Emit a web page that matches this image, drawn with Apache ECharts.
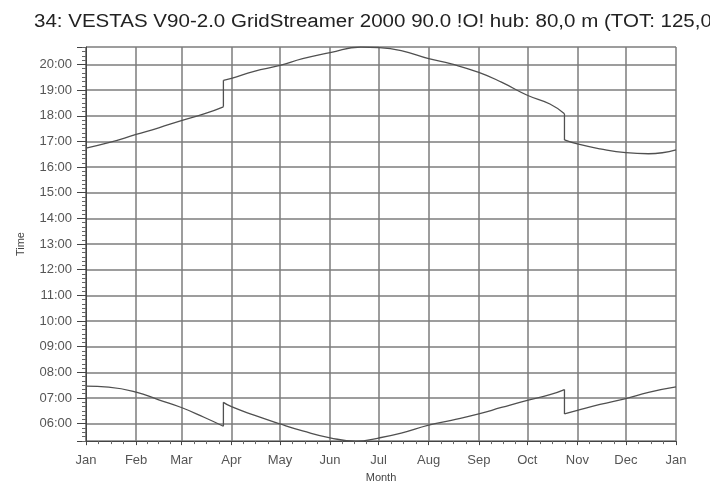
<!DOCTYPE html>
<html>
<head>
<meta charset="utf-8">
<script src="https://cdn.jsdelivr.net/npm/echarts@6/dist/echarts.min.js"></script>
<style>
  html, body { margin: 0; padding: 0; background: #fff; }
  #chart { width: 710px; height: 488px; }
</style>
</head>
<body>
<div id="chart"></div>
<script>
// Month labels for the time axis
const monthNames = ['Jan', 'Feb', 'Mar', 'Apr', 'May', 'Jun', 'Jul', 'Aug', 'Sep', 'Oct', 'Nov', 'Dec'];

const titleText = '34: VESTAS V90-2.0 GridStreamer 2000 90.0 !O! hub: 80,0 m (TOT: 125,0';

// Evening (upper) curve, one array per continuous stretch between clock changes (hours of day)
const sunsetDatesA = ['2023-01-01', '2023-01-15', '2023-02-01', '2023-02-15', '2023-03-01', '2023-03-15', '2023-03-27'];
const sunsetTimesA = [16.74, 16.95, 17.27, 17.53, 17.81, 18.07, 18.35];
const sunsetDatesB = ['2023-03-27', '2023-04-01', '2023-04-15', '2023-05-01', '2023-05-15', '2023-06-01', '2023-06-20',
  '2023-07-01', '2023-07-15', '2023-08-01', '2023-08-15', '2023-09-01', '2023-09-15', '2023-10-01', '2023-10-15', '2023-10-24'];
const sunsetTimesB = [19.38, 19.46, 19.73, 19.96, 20.23, 20.46, 20.68,
  20.66, 20.54, 20.23, 20.02, 19.69, 19.31, 18.80, 18.46, 18.08];
const sunsetDatesC = ['2023-10-24', '2023-11-01', '2023-11-15', '2023-12-01', '2023-12-15', '2024-01-01'];
const sunsetTimesC = [17.06, 16.90, 16.71, 16.56, 16.52, 16.67];

// Morning (lower) curve
const sunriseDatesA = ['2023-01-01', '2023-01-15', '2023-02-01', '2023-02-15', '2023-03-01', '2023-03-15', '2023-03-27'];
const sunriseTimesA = [7.46, 7.42, 7.23, 6.93, 6.63, 6.25, 5.90];
const sunriseDatesB = ['2023-03-27', '2023-04-01', '2023-04-15', '2023-05-01', '2023-05-15', '2023-06-01', '2023-06-17',
  '2023-07-01', '2023-07-15', '2023-08-01', '2023-08-15', '2023-09-01', '2023-09-15', '2023-10-01', '2023-10-15', '2023-10-24'];
const sunriseTimesB = [6.83, 6.66, 6.33, 5.99, 5.72, 5.45, 5.32,
  5.44, 5.63, 5.94, 6.13, 6.38, 6.63, 6.91, 7.13, 7.33];
const sunriseDatesC = ['2023-10-24', '2023-11-01', '2023-11-15', '2023-12-01', '2023-12-15', '2024-01-01'];
const sunriseTimesC = [6.38, 6.52, 6.75, 6.98, 7.22, 7.43];

const yMin = 5.32;
const yMax = 20.68;

function pair(dates, values) {
  return dates.map((d, i) => [d, values[i]]);
}

// Join stretches with a gap so each one is smoothed on its own
function stretches(parts) {
  const out = [];
  parts.forEach((p, i) => {
    if (i > 0) out.push([p[0][0], '-']);
    out.push(...pair(p[0], p[1]));
  });
  return out;
}

// Vertical steps at the clock changes: last point of one stretch to first of the next
function steps(parts) {
  const out = [];
  for (let i = 1; i < parts.length; i++) {
    const prev = parts[i - 1];
    const next = parts[i];
    if (i > 1) out.push([next[0][0], '-']);
    out.push([prev[0][prev[0].length - 1], prev[1][prev[1].length - 1]]);
    out.push([next[0][0], next[1][0]]);
  }
  return out;
}

function hourLabel(v) {
  const r = Math.round(v);
  if (Math.abs(v - r) > 1e-6) return '';
  return (r < 10 ? '0' : '') + r + ':00';
}

const sunsetParts = [[sunsetDatesA, sunsetTimesA], [sunsetDatesB, sunsetTimesB], [sunsetDatesC, sunsetTimesC]];
const sunriseParts = [[sunriseDatesA, sunriseTimesA], [sunriseDatesB, sunriseTimesB], [sunriseDatesC, sunriseTimesC]];

const chart = echarts.init(document.getElementById('chart'), null, { renderer: 'canvas' });
const font = 'Liberation Sans, Arial, sans-serif';
const gridColor = '#7d7d7d';
const curveStyle = { color: '#505050', width: 1.3 };

function curveSeries(data, smooth) {
  return {
    type: 'line',
    data: data,
    showSymbol: false,
    smooth: smooth,
    connectNulls: false,
    lineStyle: curveStyle,
    z: 5
  };
}

chart.setOption({
  animation: false,
  backgroundColor: '#ffffff',
  textStyle: { fontFamily: font },
  graphic: [{
    type: 'text',
    x: 34,
    y: 13,
    scaleX: 1.14,
    style: {
      text: titleText,
      fontSize: 18,
      fontFamily: font,
      fill: '#222',
      textVerticalAlign: 'top'
    }
  }],
  grid: { left: 86, right: 34, top: 47, bottom: 44, containLabel: false },
  xAxis: {
    type: 'time',
    min: '2023-01-01',
    max: '2024-01-01',
    splitNumber: 12,
    minInterval: 28 * 86400000,
    maxInterval: 31 * 86400000,
    name: 'Month',
    nameLocation: 'middle',
    nameGap: 30,
    nameTextStyle: { fontSize: 11, color: '#444', fontFamily: font },
    axisLine: { lineStyle: { color: '#444', width: 1 } },
    axisTick: { show: true, length: 4, lineStyle: { color: '#444' } },
    minorTick: { show: true, splitNumber: 4, length: 3, lineStyle: { color: '#666' } },
    splitLine: { show: true, lineStyle: { color: gridColor, width: 1.5 } },
    axisLabel: {
      formatter: (v) => monthNames[new Date(v).getMonth()],
      fontSize: 13,
      color: '#555',
      margin: 13,
      hideOverlap: false,
      showMinLabel: true,
      showMaxLabel: true
    }
  },
  yAxis: {
    type: 'value',
    min: yMin,
    max: yMax,
    splitNumber: 15,
    name: 'Time',
    nameLocation: 'middle',
    nameGap: 60,
    nameTextStyle: { fontSize: 11, color: '#444', fontFamily: font },
    axisLine: { show: true, lineStyle: { color: '#444', width: 1 } },
    axisTick: { show: true, length: 9, lineStyle: { color: '#444' } },
    minorTick: { show: true, splitNumber: 6, length: 4, lineStyle: { color: '#666' } },
    splitLine: { show: true, lineStyle: { color: gridColor, width: 1.5 } },
    axisLabel: { formatter: hourLabel, fontSize: 13, color: '#555', margin: 14 }
  },
  series: [
    curveSeries(stretches(sunsetParts), 0.5),
    curveSeries(steps(sunsetParts), false),
    curveSeries(stretches(sunriseParts), 0.5),
    curveSeries(steps(sunriseParts), false)
  ]
});
</script>
</body>
</html>
